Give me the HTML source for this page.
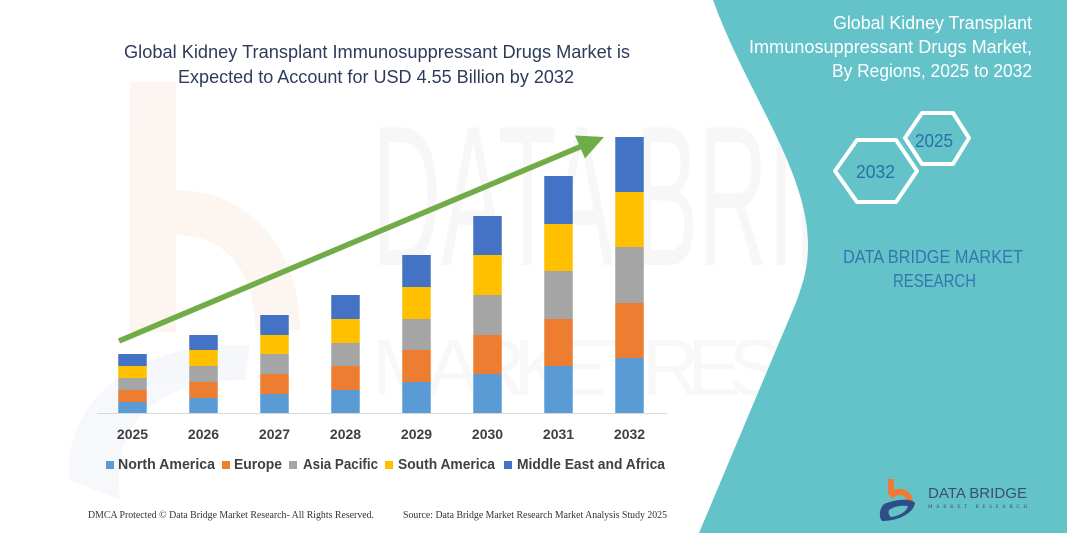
<!DOCTYPE html>
<html><head><meta charset="utf-8"><style>
html,body{margin:0;padding:0;background:#fff;}
svg{display:block;}
</style></head><body>
<svg width="1067" height="533" viewBox="0 0 1067 533" xmlns="http://www.w3.org/2000/svg">
<rect width="1067" height="533" fill="#ffffff"/>
<!-- faint watermark logo left -->
<g opacity="0.45">
<rect x="130" y="82" width="46" height="250" fill="#fbe9e0"/>
<path d="M176 190 C 250 190, 300 250, 300 330 L 255 330 C 255 270, 225 235, 176 235 Z" fill="#fbe9e0"/>
<path d="M70 480 C 60 400, 140 340, 250 345 L 245 380 C 160 380, 110 420, 120 500 Z" fill="#eaeff6"/>
</g>
<!-- faint watermark text -->
<text x="372" y="265" font-family="Liberation Sans, sans-serif" font-size="200" fill="#f7f7f7" textLength="630" lengthAdjust="spacingAndGlyphs">DATA BRIDGE</text>
<text x="372" y="395" font-family="Liberation Sans, sans-serif" font-size="80" fill="#f8f8f8" textLength="630" lengthAdjust="spacing">MARKET RESEARCH</text>

<!-- teal panel -->
<path d="M713 0 C 745 90, 808 170, 808 245 C 808 270, 802 285, 797 300 L 699 533 L 1067 533 L 1067 0 Z" fill="#63C3C9"/>

<!-- title -->
<g font-family="Liberation Sans, sans-serif" font-size="18" fill="#2E3B5B">
<text x="124" y="58" textLength="506" lengthAdjust="spacingAndGlyphs">Global Kidney Transplant Immunosuppressant Drugs Market is</text>
<text x="178" y="83" textLength="396" lengthAdjust="spacingAndGlyphs">Expected to Account for USD 4.55 Billion by 2032</text>
</g>

<!-- axis -->
<line x1="97" y1="413.5" x2="667" y2="413.5" stroke="#D9D9D9" stroke-width="1"/>

<!-- bars -->
<g>
<rect x="118.25" y="402" width="28.5" height="11" fill="#5B9BD5"/>
<rect x="118.25" y="390" width="28.5" height="12" fill="#ED7D31"/>
<rect x="118.25" y="378" width="28.5" height="12" fill="#A5A5A5"/>
<rect x="118.25" y="366" width="28.5" height="12" fill="#FFC000"/>
<rect x="118.25" y="354" width="28.5" height="12" fill="#4472C4"/>
<rect x="189.25" y="398" width="28.5" height="15" fill="#5B9BD5"/>
<rect x="189.25" y="382" width="28.5" height="16" fill="#ED7D31"/>
<rect x="189.25" y="366" width="28.5" height="16" fill="#A5A5A5"/>
<rect x="189.25" y="350" width="28.5" height="16" fill="#FFC000"/>
<rect x="189.25" y="335" width="28.5" height="15" fill="#4472C4"/>
<rect x="260.25" y="394" width="28.5" height="19" fill="#5B9BD5"/>
<rect x="260.25" y="374" width="28.5" height="20" fill="#ED7D31"/>
<rect x="260.25" y="354" width="28.5" height="20" fill="#A5A5A5"/>
<rect x="260.25" y="335" width="28.5" height="19" fill="#FFC000"/>
<rect x="260.25" y="315" width="28.5" height="20" fill="#4472C4"/>
<rect x="331.25" y="390" width="28.5" height="23" fill="#5B9BD5"/>
<rect x="331.25" y="366" width="28.5" height="24" fill="#ED7D31"/>
<rect x="331.25" y="343" width="28.5" height="23" fill="#A5A5A5"/>
<rect x="331.25" y="319" width="28.5" height="24" fill="#FFC000"/>
<rect x="331.25" y="295" width="28.5" height="24" fill="#4472C4"/>
<rect x="402.25" y="382" width="28.5" height="31" fill="#5B9BD5"/>
<rect x="402.25" y="350" width="28.5" height="32" fill="#ED7D31"/>
<rect x="402.25" y="319" width="28.5" height="31" fill="#A5A5A5"/>
<rect x="402.25" y="287" width="28.5" height="32" fill="#FFC000"/>
<rect x="402.25" y="255" width="28.5" height="32" fill="#4472C4"/>
<rect x="473.25" y="374" width="28.5" height="39" fill="#5B9BD5"/>
<rect x="473.25" y="335" width="28.5" height="39" fill="#ED7D31"/>
<rect x="473.25" y="295" width="28.5" height="40" fill="#A5A5A5"/>
<rect x="473.25" y="255" width="28.5" height="40" fill="#FFC000"/>
<rect x="473.25" y="216" width="28.5" height="39" fill="#4472C4"/>
<rect x="544.25" y="366" width="28.5" height="47" fill="#5B9BD5"/>
<rect x="544.25" y="319" width="28.5" height="47" fill="#ED7D31"/>
<rect x="544.25" y="271" width="28.5" height="48" fill="#A5A5A5"/>
<rect x="544.25" y="224" width="28.5" height="47" fill="#FFC000"/>
<rect x="544.25" y="176" width="28.5" height="48" fill="#4472C4"/>
<rect x="615.25" y="358" width="28.5" height="55" fill="#5B9BD5"/>
<rect x="615.25" y="303" width="28.5" height="55" fill="#ED7D31"/>
<rect x="615.25" y="247" width="28.5" height="56" fill="#A5A5A5"/>
<rect x="615.25" y="192" width="28.5" height="55" fill="#FFC000"/>
<rect x="615.25" y="137" width="28.5" height="55" fill="#4472C4"/>
</g>

<!-- arrow -->
<line x1="119" y1="341" x2="582" y2="146" stroke="#70AD47" stroke-width="5.5"/>
<polygon points="604,137 575,135.5 585,158.5" fill="#70AD47"/>

<!-- years -->
<g font-family="Liberation Sans, sans-serif" font-size="14" font-weight="bold" fill="#404040" text-anchor="middle">
<text x="132.5" y="439">2025</text>
<text x="203.5" y="439">2026</text>
<text x="274.5" y="439">2027</text>
<text x="345.5" y="439">2028</text>
<text x="416.5" y="439">2029</text>
<text x="487.5" y="439">2030</text>
<text x="558.5" y="439">2031</text>
<text x="629.5" y="439">2032</text>
</g>

<!-- legend -->
<g font-family="Liberation Sans, sans-serif" font-size="15" font-weight="bold" fill="#404040">
<rect x="106" y="461" width="8" height="8" fill="#5B9BD5"/>
<text x="118" y="469" textLength="97" lengthAdjust="spacingAndGlyphs">North America</text>
<rect x="222" y="461" width="8" height="8" fill="#ED7D31"/>
<text x="234" y="469" textLength="48" lengthAdjust="spacingAndGlyphs">Europe</text>
<rect x="289" y="461" width="8" height="8" fill="#A5A5A5"/>
<text x="303" y="469" textLength="75" lengthAdjust="spacingAndGlyphs">Asia Pacific</text>
<rect x="385" y="461" width="8" height="8" fill="#FFC000"/>
<text x="398" y="469" textLength="97" lengthAdjust="spacingAndGlyphs">South America</text>
<rect x="504" y="461" width="8" height="8" fill="#4472C4"/>
<text x="517" y="469" textLength="148" lengthAdjust="spacingAndGlyphs">Middle East and Africa</text>
</g>

<!-- footer -->
<g font-family="Liberation Serif, serif" font-size="10" fill="#333333">
<text x="88" y="518" textLength="286" lengthAdjust="spacingAndGlyphs">DMCA Protected © Data Bridge Market Research-  All Rights Reserved.</text>
<text x="403" y="518" textLength="264" lengthAdjust="spacingAndGlyphs">Source: Data Bridge Market Research  Market Analysis Study 2025</text>
</g>

<!-- right panel text -->
<g font-family="Liberation Sans, sans-serif" font-size="18" fill="#ffffff">
<text x="833" y="29" textLength="199" lengthAdjust="spacingAndGlyphs">Global Kidney Transplant</text>
<text x="749" y="53" textLength="283" lengthAdjust="spacingAndGlyphs">Immunosuppressant Drugs Market,</text>
<text x="832" y="77" textLength="200" lengthAdjust="spacingAndGlyphs">By Regions, 2025 to 2032</text>
</g>

<!-- hexagons -->
<g fill="none" stroke="#ffffff" stroke-width="4" stroke-linejoin="round">
<polygon points="835,171 857,140 896,140 917,171 896,202 857,202"/>
<polygon points="905,138 922,113 953,113 969,138 953,164 922,164"/>
</g>
<g font-family="Liberation Sans, sans-serif" font-size="18" fill="#2C6FA6">
<text x="856" y="178" textLength="39" lengthAdjust="spacingAndGlyphs">2032</text>
<text x="915" y="147" textLength="38" lengthAdjust="spacingAndGlyphs">2025</text>
</g>
<g font-family="Liberation Sans, sans-serif" font-size="18" fill="#3377B0">
<text x="843" y="263" textLength="180" lengthAdjust="spacingAndGlyphs">DATA BRIDGE MARKET</text>
<text x="893" y="287" textLength="83" lengthAdjust="spacingAndGlyphs">RESEARCH</text>
</g>

<!-- bottom-right logo -->
<g>
<rect x="888" y="479" width="6" height="16" fill="#EF7A33"/>
<path d="M888 493 C 896 486, 912 487, 913 502 L 907 502 C 906 494, 898 493, 892 499 Z" fill="#EF7A33"/>
<path d="M884 504 C 895 499, 912 498, 915 503 C 914 512, 900 521, 882 521 C 878 516, 880 508, 884 504 Z M891 517 C 900 516, 907 511, 908 506 C 900 505, 893 507, 889 510 C 888 513, 889 516, 891 517 Z" fill="#2F4D86" fill-rule="evenodd"/>
<text x="928" y="498" font-family="Liberation Sans, sans-serif" font-size="15" fill="#3D4F6B" textLength="99" lengthAdjust="spacingAndGlyphs">DATA BRIDGE</text>
<text x="928" y="508" font-family="Liberation Serif, serif" font-size="5" fill="#3D4F6B" textLength="99" lengthAdjust="spacing">MARKET RESEARCH</text>
</g>
</svg>
</body></html>
